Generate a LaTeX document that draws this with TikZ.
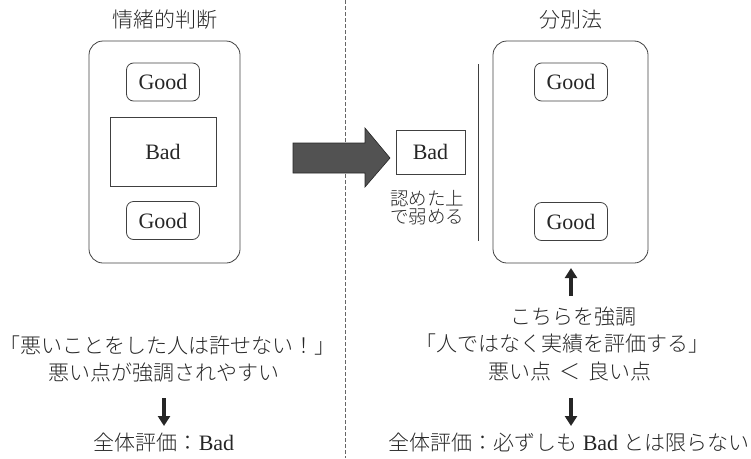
\documentclass[tikz,border=0pt]{standalone}
\usepackage{fontspec}
\setmainfont{Liberation Serif}
\IfFontExistsTF{Noto Sans CJK JP Light}
  {\newfontfamily\jp{Noto Sans CJK JP Light}}
  {\newfontfamily\jp{Noto Sans CJK JP}}
\usetikzlibrary{arrows.meta}
\newcommand\jpf{\jp\fontsize{21}{24}\selectfont}
\newcommand\jps{\jp\fontsize{18.5}{18}\selectfont}
\newcommand\latf{\rmfamily\fontsize{22}{24}\selectfont}
\begin{document}
\begin{tikzpicture}[x=1pt,y=-1pt,
  every node/.style={inner sep=0pt, text=black!85},
  lat/.style={font=\latf},
  jt/.style={font=\jpf},
  outerbox/.style={draw=black!75, line width=0.8pt, rounded corners=14pt},
  goodbox/.style={draw=black!75, line width=0.8pt, rounded corners=7pt, minimum width=73pt, minimum height=38pt, lat},
  badbox/.style={draw=black!75, line width=0.8pt, lat},
  downarrow/.style={line width=4pt, black!85, -{Triangle[width=12pt,length=10pt]}},
  sepline/.style={draw=black!60, line width=0.8pt, dash pattern=on 4pt off 2pt},
]
\useasboundingbox (0,0) rectangle (751,458);

% titles
\node[jt] (t1) at (165,20) {情緒的判断};
\node[jt] (t2) at (571,20) {分別法};

% separator
\coordinate (s1) at (345,0);
\coordinate (s2) at (345,458);
\draw[sepline] (s1) -- (s2);

% left group
\node[outerbox, minimum width=151pt, minimum height=222pt] (L) at (164.5,152) {};
\node[goodbox] (Lg1) at (163,82) {Good};
\node[badbox, minimum width=106pt, minimum height=69pt] (Lb) at (163,151.5) {Bad};
\node[goodbox] (Lg2) at (163,220.5) {Good};

% right group
\node[outerbox, minimum width=155pt, minimum height=222pt] (R) at (570.5,152) {};
\node[goodbox] (Rg1) at (571,82) {Good};
\node[goodbox] (Rg2) at (571,221.5) {Good};

% big arrow
\fill[black!68, draw=black!85, line width=0.6pt]
  (293,143) -- (365,143) -- (365,128) -- (390,158) -- (365,187) -- (365,173) -- (293,173) -- cycle;

% small bad
\node[badbox, minimum width=69pt, minimum height=44pt] (Sb) at (430.5,152) {Bad};
\node (Sn1) at (427,198.5) {\jps 認めた上};
\node (Sn2) at (427,216.5) {\jps で弱める};

% solid line
\coordinate (v1) at (478,64);
\coordinate (v2) at (478,241);
\draw[black!75, line width=0.8pt] (v1) -- (v2);

% left bottom texts
\node[jt] (La) at (167,346) {「悪いことをした人は許せない！」};
\node[jt] (Lc) at (164,373) {悪い点が強調されやすい};
\node (Lr) at (164,443) {{\jpf 全体評価：}{\latf Bad}};
\coordinate (la1) at (164,398);
\coordinate (la2) at (164,426);
\draw[downarrow] (la1) -- (la2);

% right bottom texts
\coordinate (ua1) at (571,296);
\coordinate (ua2) at (571,268);
\draw[downarrow] (ua1) -- (ua2);
\node[jt] (Ra) at (573,317) {こちらを強調};
\node[jt] (Rb) at (562,344) {「人ではなく実績を評価する」};
\node[jt] (Rc) at (570,372) {悪い点\hspace{8pt}＜\hspace{8pt}良い点};
\coordinate (ra1) at (571,398);
\coordinate (ra2) at (571,426);
\draw[downarrow] (ra1) -- (ra2);
\node (Rr) at (569,443) {{\jpf 全体評価：必ずしも}\hspace{5pt}{\latf Bad}\hspace{5pt}{\jpf とは限らない}};
\end{tikzpicture}
\end{document}
